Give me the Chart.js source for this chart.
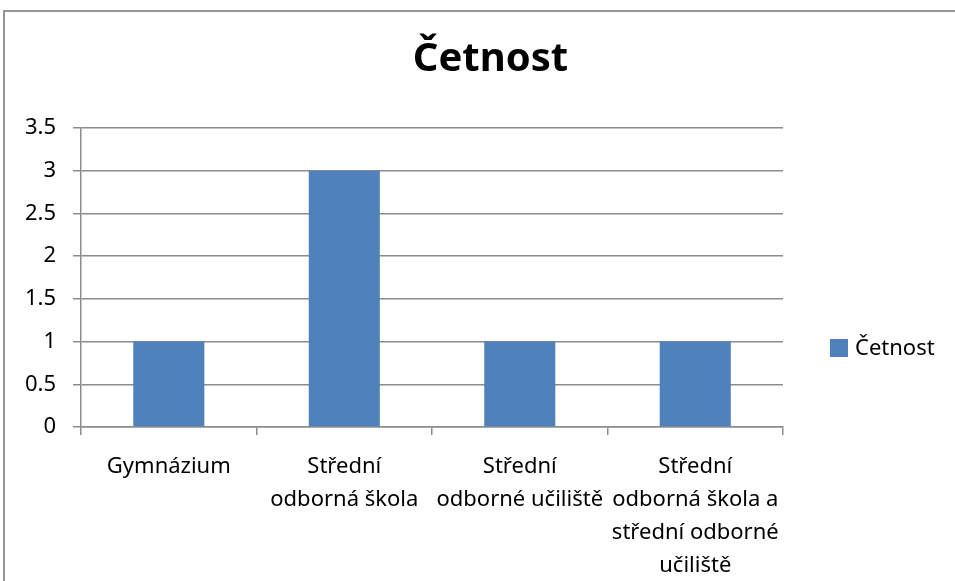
<!DOCTYPE html>
<html>
<head>
<meta charset="utf-8">
<script src="https://cdn.jsdelivr.net/npm/chart.js@4"></script>
<style>
  html, body { margin: 0; padding: 0; background: #fff; overflow: hidden; }
  #frame { position: absolute; left: 3px; top: 10px; width: 971px; height: 620px; border: 2px solid #959595; }
  #frame canvas { display: block; }
  #title { position: absolute; left: 0; width: 971px; top: 21px; text-align: center;
           font: bold 40px/46px 'Noto Sans', sans-serif; color: #000; }
</style>
</head>
<body>
<div id="frame">
  <canvas id="c" width="971" height="620"></canvas>
  <div id="title">Četnost</div>
</div>
<script>
// data
const categories = [
  ['Gymnázium'],
  ['Střední', 'odborná škola'],
  ['Střední', 'odborné učiliště'],
  ['Střední', 'odborná škola a', 'střední odborné', 'učiliště'],
];
const seriesName = 'Četnost';
const values = [1, 3, 1, 1];
const yTicks = [0, 0.5, 1, 1.5, 2, 2.5, 3, 3.5];

const BAR = '#4f81bd';
const GRID = '#8c8c8c';
const FONT = "'Noto Sans', sans-serif";

// legend on the right, like the office chart (not centred on the plot)
const sideLegend = {
  id: 'sideLegend',
  afterDraw(chart) {
    const { ctx, chartArea } = chart;
    const x = chartArea.right + 47;
    const y = 336;
    ctx.save();
    ctx.fillStyle = BAR;
    ctx.fillRect(x, y - 9, 18, 18);
    ctx.fillStyle = '#000';
    ctx.font = `22px ${FONT}`;
    ctx.textBaseline = 'middle';
    ctx.textAlign = 'left';
    ctx.fillText(seriesName, x + 25, y + 1);
    ctx.restore();
  },
};

new Chart(document.getElementById('c'), {
  type: 'bar',
  data: {
    labels: categories,
    datasets: [{
      label: seriesName,
      data: values,
      backgroundColor: BAR,
      borderWidth: 0,
      barPercentage: 0.405,
      categoryPercentage: 1,
    }],
  },
  options: {
    responsive: false,
    animation: false,
    layout: { padding: { left: 3, right: 193, top: 116, bottom: 35 } },
    plugins: {
      legend: { display: false },
      tooltip: { enabled: false },
      title: { display: false },
    },
    scales: {
      x: {
        grid: { display: true, drawOnChartArea: false, drawTicks: true, tickLength: 8, color: GRID, lineWidth: 1.5, offset: true },
        border: { display: true, color: GRID, width: 1.5 },
        ticks: { color: '#000', font: { family: FONT, size: 22, lineHeight: 1.5 }, padding: 15, maxRotation: 0, autoSkip: false },
      },
      y: {
        min: 0,
        max: 3.5,
        afterBuildTicks: s => { s.ticks = yTicks.map(v => ({ value: v })); },
        grid: { color: GRID, lineWidth: 1.5, tickLength: 8 },
        border: { display: true, color: GRID, width: 1.5 },
        ticks: { color: '#000', font: { family: FONT, size: 22 }, padding: 17, callback: v => String(v) },
      },
    },
  },
  plugins: [sideLegend],
});
</script>
</body>
</html>
